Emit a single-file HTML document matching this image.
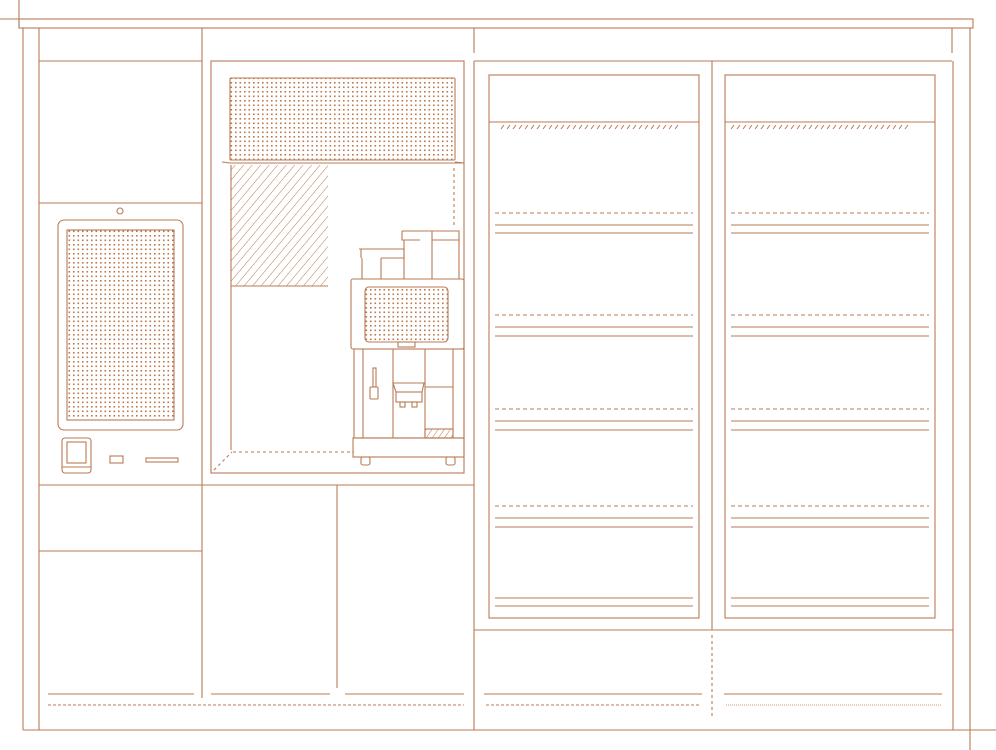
<!DOCTYPE html>
<html><head><meta charset="utf-8"><style>
html,body{margin:0;padding:0;background:#fff;width:996px;height:750px;overflow:hidden}
svg{display:block}
</style></head><body>
<svg width="996" height="750" viewBox="0 0 996 750" xmlns="http://www.w3.org/2000/svg">
<defs>
<pattern id="dots" width="4.5" height="4.5" patternUnits="userSpaceOnUse">
<rect x="1" y="1" width="1.6" height="1.6" fill="#b9794f"/>
</pattern>
<pattern id="hatch" width="6.5" height="9" patternUnits="userSpaceOnUse" patternTransform="rotate(40)">
<line x1="0" y1="0" x2="0" y2="9" stroke="#b9794f" stroke-width="1"/>
</pattern>
<pattern id="hatch2" width="5" height="5" patternUnits="userSpaceOnUse" patternTransform="rotate(35)">
<line x1="0" y1="0" x2="0" y2="5" stroke="#b9794f" stroke-width="1"/>
</pattern>
</defs>
<g fill="none" stroke="#b97b55" stroke-width="1.1">
<line x1="0" y1="19" x2="973" y2="19"/>
<line x1="19" y1="0" x2="19" y2="28"/>
<rect x="19" y="19" width="954" height="9"/>
<line x1="23" y1="28" x2="23" y2="730"/>
<line x1="39" y1="28" x2="39" y2="730"/>
<line x1="23" y1="730" x2="996" y2="730"/>
<line x1="952" y1="28" x2="952" y2="53"/>
<line x1="970" y1="28" x2="970" y2="750"/>
<line x1="953" y1="61" x2="953" y2="730"/>
<line x1="202" y1="28" x2="202" y2="698"/>
<line x1="474" y1="28" x2="474" y2="53"/>
<line x1="474" y1="61" x2="474" y2="730"/>
<line x1="39" y1="61" x2="202" y2="61"/>
<line x1="39" y1="203" x2="202" y2="203"/>
<line x1="39" y1="485" x2="474" y2="485"/>
<line x1="39" y1="551" x2="202" y2="551"/>
<line x1="337" y1="485" x2="337" y2="688"/>
<circle cx="120" cy="211" r="3"/>
<rect x="58" y="220" width="125" height="210" rx="6"/>
<rect x="67" y="230" width="107" height="190" fill="url(#dots)"/>
<rect x="62" y="438" width="29" height="35" rx="3"/>
<rect x="67" y="442" width="19" height="21"/>
<line x1="62" y1="467" x2="91" y2="467"/>
<rect x="110" y="456" width="13" height="7"/>
<rect x="146" y="458" width="32" height="4"/>
<rect x="211" y="61" width="253" height="412"/>
<rect x="230" y="78" width="225" height="82" rx="1" fill="url(#dots)"/>
<path d="M222 162 L230 163 L464 163 L455 162"/>
<rect x="231" y="165" width="97" height="121" fill="url(#hatch)" stroke="none"/>
<line x1="231" y1="286" x2="328" y2="286"/>
<line x1="231" y1="165" x2="231" y2="450"/>
<line x1="454" y1="168" x2="454" y2="228" stroke-dasharray="3,3"/>
<line x1="233" y1="452" x2="354" y2="452" stroke-dasharray="3,3"/>
<line x1="214" y1="470" x2="232" y2="452" stroke-dasharray="3,3"/>
<path d="M359 249 H404 V258 H381"/>
<path d="M362 258 V279 M381 258 V279 M361 249 V258"/>
<path d="M402 231 H459 V279 M402 231 V240 H420 M404 240 V279 M432 231 V279 M432 240 H459"/>
<rect x="351" y="279" width="113" height="70" rx="2"/>
<rect x="365" y="287" width="83" height="55" rx="4" fill="url(#dots)"/>
<rect x="398" y="342" width="17" height="5"/>
<rect x="354" y="349" width="110" height="89"/>
<line x1="363" y1="349" x2="363" y2="438"/>
<line x1="393" y1="349" x2="393" y2="438"/>
<line x1="425" y1="349" x2="425" y2="438"/>
<line x1="425" y1="387" x2="453" y2="387"/>
<line x1="453" y1="349" x2="453" y2="438"/>
<rect x="373" y="368" width="3" height="19"/>
<rect x="370" y="387" width="8" height="12" rx="1"/>
<path d="M393 383 H424 L422 392 H396 Z"/>
<rect x="396" y="392" width="26" height="10"/>
<rect x="400" y="402" width="5" height="5"/>
<rect x="412" y="402" width="5" height="5"/>
<rect x="425" y="429" width="28" height="9" fill="url(#hatch2)"/>
<rect x="353" y="438" width="111" height="19"/>
<rect x="361" y="457" width="9" height="8" rx="2"/>
<rect x="446" y="457" width="9" height="8" rx="2"/>
<line x1="474" y1="61" x2="952" y2="61"/>
<line x1="712" y1="61" x2="712" y2="630"/>
<line x1="474" y1="630" x2="953" y2="630"/>
<line x1="712" y1="635" x2="712" y2="718" stroke-dasharray="3,3"/>
<g id="door">
<rect x="489" y="75" width="210" height="543"/>
<line x1="489" y1="122" x2="699" y2="122"/>
<line x1="495" y1="213" x2="693" y2="213" stroke-dasharray="4,3"/>
<line x1="495" y1="225" x2="693" y2="225"/><line x1="495" y1="233" x2="693" y2="233"/>
<line x1="495" y1="315" x2="693" y2="315" stroke-dasharray="4,3"/>
<line x1="495" y1="327" x2="693" y2="327"/><line x1="495" y1="336" x2="693" y2="336"/>
<line x1="495" y1="409" x2="693" y2="409" stroke-dasharray="4,3"/>
<line x1="495" y1="421" x2="693" y2="421"/><line x1="495" y1="430" x2="693" y2="430"/>
<line x1="495" y1="506" x2="693" y2="506" stroke-dasharray="4,3"/>
<line x1="495" y1="518" x2="693" y2="518"/><line x1="495" y1="527" x2="693" y2="527"/>
<line x1="495" y1="598" x2="693" y2="598"/><line x1="495" y1="606" x2="693" y2="606"/>
</g>
<use href="#door" x="236"/>
<line x1="48" y1="694" x2="194" y2="694"/>
<line x1="211" y1="694" x2="330" y2="694"/>
<line x1="345" y1="694" x2="464" y2="694"/>
<line x1="484" y1="694" x2="702" y2="694"/>
<line x1="724" y1="694" x2="942" y2="694"/>
<line x1="48" y1="705" x2="464" y2="705" stroke-dasharray="3,2"/>
<line x1="486" y1="705" x2="700" y2="705" stroke-dasharray="3,2"/>
<line x1="726" y1="705" x2="942" y2="705" stroke-dasharray="1,1" stroke-width="0.8"/>
</g>
<g stroke="#b97b55" stroke-width="1">
<path d="M501 129 l3 -4 M507 129 l3 -4 M513 129 l3 -4 M519 129 l3 -4 M525 129 l3 -4 M531 129 l3 -4 M537 129 l3 -4 M543 129 l3 -4 M549 129 l3 -4 M555 129 l3 -4 M561 129 l3 -4 M567 129 l3 -4 M573 129 l3 -4 M579 129 l3 -4 M585 129 l3 -4 M591 129 l3 -4 M597 129 l3 -4 M603 129 l3 -4 M609 129 l3 -4 M615 129 l3 -4 M621 129 l3 -4 M627 129 l3 -4 M633 129 l3 -4 M639 129 l3 -4 M645 129 l3 -4 M651 129 l3 -4 M657 129 l3 -4 M663 129 l3 -4 M669 129 l3 -4 M675 129 l3 -4"/>
<path transform="translate(230 0)" d="M501 129 l3 -4 M507 129 l3 -4 M513 129 l3 -4 M519 129 l3 -4 M525 129 l3 -4 M531 129 l3 -4 M537 129 l3 -4 M543 129 l3 -4 M549 129 l3 -4 M555 129 l3 -4 M561 129 l3 -4 M567 129 l3 -4 M573 129 l3 -4 M579 129 l3 -4 M585 129 l3 -4 M591 129 l3 -4 M597 129 l3 -4 M603 129 l3 -4 M609 129 l3 -4 M615 129 l3 -4 M621 129 l3 -4 M627 129 l3 -4 M633 129 l3 -4 M639 129 l3 -4 M645 129 l3 -4 M651 129 l3 -4 M657 129 l3 -4 M663 129 l3 -4 M669 129 l3 -4 M675 129 l3 -4"/>
</g>
</svg>
</body></html>
